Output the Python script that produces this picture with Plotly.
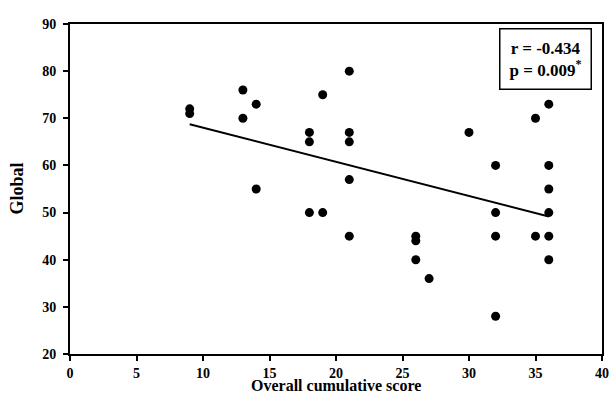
import numpy as np
import plotly.graph_objects as go

score = [9, 9, 13, 13, 14, 14, 18, 18, 18, 19, 19, 21, 21, 21, 21, 21,
         26, 26, 26, 27, 30, 32, 32, 32, 32, 35, 35, 36, 36, 36, 36, 36, 36]
global_ = [72, 71, 76, 70, 73, 55, 67, 65, 50, 75, 50, 80, 67, 65, 57, 45,
           45, 44, 40, 36, 67, 60, 50, 45, 28, 70, 45, 73, 60, 55, 50, 45, 40]

x_ticks = [0, 5, 10, 15, 20, 25, 30, 35, 40]
y_ticks = [20, 30, 40, 50, 60, 70, 80, 90]

slope, intercept = np.polyfit(score, global_, 1)
fit_x = [min(score), max(score)]
fit_y = [slope * v + intercept for v in fit_x]

font_family = "Liberation Serif"

fig = go.Figure()
fig.add_trace(go.Scatter(x=score, y=global_, mode="markers",
                         marker=dict(color="black", size=9), showlegend=False))
fig.add_trace(go.Scatter(x=fit_x, y=fit_y, mode="lines",
                         line=dict(color="black", width=2), showlegend=False))

fig.add_annotation(
    xref="paper", yref="paper", x=0.981, y=0.988, xanchor="right", yanchor="top",
    text="<b>r = -0.434<br>p = 0.009<sup>*</sup></b>", showarrow=False, align="center",
    font=dict(family=font_family, size=17, color="black"),
    bordercolor="black", borderwidth=1.5, borderpad=9, bgcolor="white")

# axis titles
fig.add_annotation(xref="paper", yref="paper", x=0.5, y=-0.124, xanchor="center", yanchor="bottom",
                   text="<b>Overall cumulative score</b>", showarrow=False, borderpad=0,
                   font=dict(family=font_family, size=16, color="black"))
fig.add_annotation(xref="paper", yref="paper", x=-0.078, y=0.5, xanchor="right", yanchor="middle",
                   text="<b>Global</b>", showarrow=False, textangle=-90,
                   font=dict(family=font_family, size=18, color="black"))

axis_common = dict(showgrid=False, zeroline=False, showline=True, linecolor="black",
                   linewidth=2, mirror=True, ticks="outside", ticklen=5, tickwidth=2,
                   tickcolor="black", automargin=False,
                   tickfont=dict(family=font_family, size=14, color="black", weight="bold"))

fig.update_xaxes(range=[0, 40], tickvals=x_ticks, ticklabelstandoff=0, **axis_common)
fig.update_yaxes(range=[20, 90], tickvals=y_ticks, ticklabelstandoff=4, **axis_common)

fig.update_layout(width=611, height=394, margin=dict(l=70, r=9, t=24, b=40),
                  plot_bgcolor="white", paper_bgcolor="white")

fig.write_html("out.html")
